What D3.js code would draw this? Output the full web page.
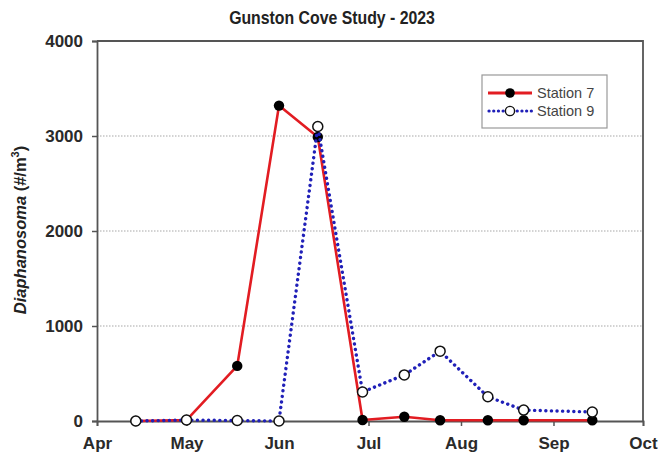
<!DOCTYPE html>
<html>
<head>
<meta charset="utf-8">
<script src="https://cdn.jsdelivr.net/npm/d3@7/dist/d3.min.js"></script>
<style>
  html, body { margin: 0; padding: 0; background: #fff; }
  svg { display: block; font-family: "Liberation Sans", Arial, sans-serif; }
</style>
</head>
<body>
<svg id="chart" width="658" height="458"></svg>
<script>
// Sampling dates (2023)
const sampleDates = ["2023-04-14", "2023-05-01", "2023-05-18", "2023-06-01", "2023-06-14",
                     "2023-06-29", "2023-07-13", "2023-07-25", "2023-08-10", "2023-08-22", "2023-09-14"];
// Diaphanosoma density (#/m3)
const station7 = [0, 10, 580, 3320, 2990, 10, 45, 8, 8, 8, 8];
const station9 = [0, 10, 5, 0, 3100, 305, 485, 735, 255, 115, 95];
const yTicks = [0, 1000, 2000, 3000, 4000];
const monthLabels = ["Apr", "May", "Jun", "Jul", "Aug", "Sep", "Oct"];
const seriesNames = ["Station 7", "Station 9"];

const svg = d3.select("#chart");
const m = { left: 97, right: 643, top: 41, bottom: 421 };
const FONT = "Liberation Sans, Arial, sans-serif";

const parse = d3.timeParse("%Y-%m-%d");
const dates = sampleDates.map(parse);

const x = d3.scaleTime()
  .domain([new Date(2023, 3, 1), new Date(2023, 9, 1)])
  .range([m.left, m.right]);
const y = d3.scaleLinear().domain([0, 4000]).range([m.bottom, m.top]);

// Gridlines
svg.append("g")
  .selectAll("line")
  .data(yTicks.filter(t => t > 0 && t < 4000))
  .join("line")
  .attr("x1", m.left).attr("x2", m.right)
  .attr("y1", d => y(d)).attr("y2", d => y(d))
  .attr("stroke", "#a8a8a8").attr("stroke-width", 1.2)
  .attr("stroke-dasharray", "1.5 1.5");

// Frame (top and right)
svg.append("path")
  .attr("d", `M${m.left},${m.top}H${m.right}V${m.bottom}`)
  .attr("fill", "none").attr("stroke", "#555").attr("stroke-width", 1.8);

// Y axis
const yAxis = svg.append("g")
  .attr("transform", `translate(${m.left},0)`)
  .call(d3.axisLeft(y).tickValues(yTicks).tickSize(5).tickPadding(9).tickFormat(d3.format("d")));
yAxis.select(".domain").attr("stroke", "#555").attr("stroke-width", 1.8);
yAxis.selectAll(".tick line").attr("stroke", "#555").attr("stroke-width", 1.5);
yAxis.selectAll("text").attr("font-size", 17).attr("font-weight", "bold").attr("fill", "#2a2a2a")
  .attr("font-family", FONT);

// X axis
const monthTicks = d3.timeMonth.range(new Date(2023, 3, 1), new Date(2023, 9, 2));
const xAxis = svg.append("g")
  .attr("transform", `translate(0,${m.bottom})`)
  .call(d3.axisBottom(x).tickValues(monthTicks).tickSize(5).tickPadding(11)
    .tickFormat((d, i) => monthLabels[i]));
xAxis.select(".domain").attr("stroke", "#555").attr("stroke-width", 1.8);
xAxis.selectAll(".tick line").attr("stroke", "#555").attr("stroke-width", 1.5);
xAxis.selectAll("text").attr("font-size", 17).attr("font-weight", "bold").attr("fill", "#2a2a2a")
  .attr("font-family", FONT);

// Title
svg.append("text")
  .attr("transform", "translate(332,24) scale(0.88,1)")
  .attr("text-anchor", "middle")
  .attr("font-size", 18).attr("font-weight", "bold").attr("fill", "#222")
  .text("Gunston Cove Study - 2023");

// Y axis title
const yt = svg.append("text")
  .attr("transform", `translate(26,230) rotate(-90)`)
  .attr("text-anchor", "middle")
  .attr("font-size", 16.5).attr("font-weight", "bold").attr("fill", "#222");
yt.append("tspan").attr("font-style", "italic").text("Diaphanosoma");
yt.append("tspan").text(" (#/m");
yt.append("tspan").attr("font-size", 11).attr("dy", -7).text("3");
yt.append("tspan").attr("dy", 7).text(")");

const line = d3.line().x(d => x(d[0])).y(d => y(d[1]));
const s7 = dates.map((d, i) => [d, station7[i]]);
const s9 = dates.map((d, i) => [d, station9[i]]);

// Station 7
svg.append("path").datum(s7)
  .attr("d", line).attr("fill", "none")
  .attr("stroke", "#e21c22").attr("stroke-width", 2.6).attr("stroke-linejoin", "round");
svg.append("g").selectAll("circle").data(s7).join("circle")
  .attr("cx", d => x(d[0])).attr("cy", d => y(d[1])).attr("r", 5.2)
  .attr("fill", "#000");

// Station 9
svg.append("path").datum(s9)
  .attr("d", line).attr("fill", "none")
  .attr("stroke", "#2020b8").attr("stroke-width", 3.4)
  .attr("stroke-linecap", "round").attr("stroke-dasharray", "0.1 5.5");
svg.append("g").selectAll("circle").data(s9).join("circle")
  .attr("cx", d => x(d[0])).attr("cy", d => y(d[1])).attr("r", 5)
  .attr("fill", "#fff").attr("stroke", "#111").attr("stroke-width", 1.5);

// Legend
const lg = svg.append("g");
lg.append("rect").attr("x", 482).attr("y", 75).attr("width", 125).attr("height", 53)
  .attr("fill", "#fff").attr("stroke", "#999").attr("stroke-width", 1.2);
const legendRows = [
  { name: seriesNames[0], y: 93 },
  { name: seriesNames[1], y: 111 }
];
lg.append("line").attr("x1", 488).attr("x2", 532).attr("y1", legendRows[0].y).attr("y2", legendRows[0].y)
  .attr("stroke", "#e21c22").attr("stroke-width", 2.8);
lg.append("circle").attr("cx", 510).attr("cy", legendRows[0].y).attr("r", 4.8).attr("fill", "#000");
lg.append("line").attr("x1", 489).attr("x2", 532).attr("y1", legendRows[1].y).attr("y2", legendRows[1].y)
  .attr("stroke", "#2020b8").attr("stroke-width", 3.2).attr("stroke-linecap", "round")
  .attr("stroke-dasharray", "0.1 4.6");
lg.append("circle").attr("cx", 510).attr("cy", legendRows[1].y).attr("r", 4.6)
  .attr("fill", "#fff").attr("stroke", "#111").attr("stroke-width", 1.4);
lg.selectAll("text.lt").data(legendRows).join("text").attr("class", "lt")
  .attr("x", 537).attr("y", d => d.y + 5)
  .attr("font-size", 14.5).attr("fill", "#444")
  .text(d => d.name);
</script>
</body>
</html>
